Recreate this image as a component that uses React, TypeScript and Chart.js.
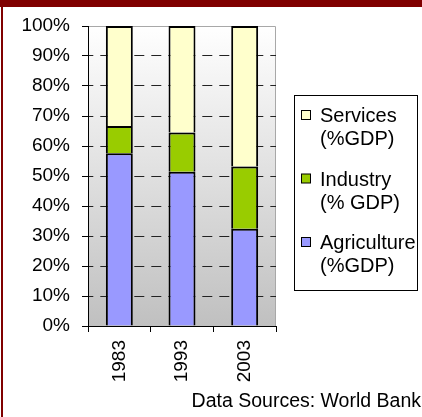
import React, { useEffect, useRef } from "react";
import { Chart, registerables } from "chart.js";

Chart.register(...registerables);

const years = ["1983", "1993", "2003"];
const agriculture = [57.6, 51.4, 32.4];
const industry = [9.1, 13.1, 20.8];
const services = [33.3, 35.5, 46.8];
const agricultureLabel = ["Agriculture", "(%GDP)"];
const industryLabel = ["Industry", "(% GDP)"];
const servicesLabel = ["Services", "(%GDP)"];
const sourceText = "Data Sources: World Bank";

const FONT = "'Liberation Sans', Arial, sans-serif";

const decorPlugin = {
  id: "decor",
  beforeDraw(chart: any) {
    const { ctx, chartArea: a, width, height } = chart;
    ctx.save();
    ctx.fillStyle = "#ffffff";
    ctx.fillRect(0, 0, width, height);
    // frame
    ctx.fillStyle = "#800000";
    ctx.fillRect(0, 0, width, 7);
    ctx.fillRect(1, 0, 2, height);
    // plot background gradient
    const g = ctx.createLinearGradient(0, a.top, 0, a.bottom);
    g.addColorStop(0, "#ffffff");
    g.addColorStop(1, "#c0c0c0");
    ctx.fillStyle = g;
    ctx.fillRect(a.left, a.top, a.right - a.left, a.bottom - a.top);
    ctx.strokeStyle = "#a8a8a8";
    ctx.lineWidth = 1;
    ctx.beginPath();
    ctx.moveTo(a.left, a.top + 0.5);
    ctx.lineTo(a.right - 0.5, a.top + 0.5);
    ctx.lineTo(a.right - 0.5, a.bottom);
    ctx.stroke();
    ctx.restore();
  },
  afterDraw(chart: any) {
    const { ctx, chartArea: a } = chart;
    ctx.save();
    // legend
    const bx = a.right + 18.5;
    const by = 95.5;
    ctx.fillStyle = "#ffffff";
    ctx.fillRect(bx, by, 123, 195);
    ctx.strokeStyle = "#000";
    ctx.lineWidth = 1;
    ctx.strokeRect(bx, by, 123, 195);
    const items = [
      { lines: servicesLabel, ds: chart.data.datasets[2] },
      { lines: industryLabel, ds: chart.data.datasets[1] },
      { lines: agricultureLabel, ds: chart.data.datasets[0] },
    ];
    ctx.font = `20px ${FONT}`;
    ctx.textBaseline = "alphabetic";
    ctx.textAlign = "left";
    items.forEach((it, i) => {
      const base = 122 + i * 63.5;
      ctx.fillStyle = it.ds.backgroundColor;
      ctx.fillRect(bx + 7, base - 11.5, 9, 9);
      ctx.strokeStyle = "#000";
      ctx.strokeRect(bx + 7, base - 11.5, 9, 9);
      ctx.fillStyle = "#000";
      it.lines.forEach((t: string, j: number) => {
        ctx.fillText(t, bx + 25.5, base + j * 23);
      });
    });
    // source
    ctx.font = `19.5px ${FONT}`;
    ctx.textAlign = "right";
    ctx.fillStyle = "#000";
    ctx.fillText(sourceText, 421, 407);
    ctx.restore();
  },
};

export default function App() {
  const ref = useRef<HTMLCanvasElement | null>(null);
  useEffect(() => {
    if (!ref.current) return;
    Chart.defaults.font.family = FONT;
    const chart = new Chart(ref.current, {
      type: "bar",
      data: {
        labels: years,
        datasets: [
          { label: agricultureLabel.join(" "), data: agriculture, backgroundColor: "#9999ff", borderColor: "#000", borderWidth: 2 },
          { label: industryLabel.join(" "), data: industry, backgroundColor: "#99cc00", borderColor: "#000", borderWidth: 2 },
          { label: servicesLabel.join(" "), data: services, backgroundColor: "#ffffcc", borderColor: "#000", borderWidth: 2 },
        ],
      },
      options: {
        animation: false,
        responsive: false,
        devicePixelRatio: 1,
        layout: { padding: { left: 0, right: 146, top: 26, bottom: 0 } },
        datasets: { bar: { categoryPercentage: 1, barPercentage: 0.43 } },
        plugins: { legend: { display: false }, tooltip: { enabled: false }, title: { display: false } },
        scales: {
          x: {
            stacked: true,
            ticks: { color: "#000", font: { size: 19 }, minRotation: 90, maxRotation: 90, padding: 8, autoSkip: false },
            grid: { drawOnChartArea: false, tickColor: "#000", tickLength: 6, offset: true },
            border: { color: "#000", width: 1 },
            afterFit: (s: any) => { s.height = 91; },
          },
          y: {
            stacked: true,
            min: 0,
            max: 100,
            ticks: { stepSize: 10, callback: (v: any) => v + "%", color: "#000", font: { size: 19 }, padding: 12 },
            grid: {
              color: (c: any) => (c.tick && (c.tick.value === 0 || c.tick.value === 100) ? "rgba(0,0,0,0)" : "#222"),
              tickColor: "#000",
              tickLength: 6,
              lineWidth: 1,
            },
            border: { color: "#000", width: 1, dash: [10, 7], dashOffset: 5.7 },
            afterFit: (s: any) => { s.width = 88; },
          },
        },
      } as any,
      plugins: [decorPlugin],
    });
    return () => chart.destroy();
  }, []);
  return (
    <div style={{ position: "absolute", left: 0, top: 0, width: 422, height: 417 }}>
      <canvas ref={ref} width={422} height={417} style={{ display: "block", width: 422, height: 417 }} />
    </div>
  );
}
